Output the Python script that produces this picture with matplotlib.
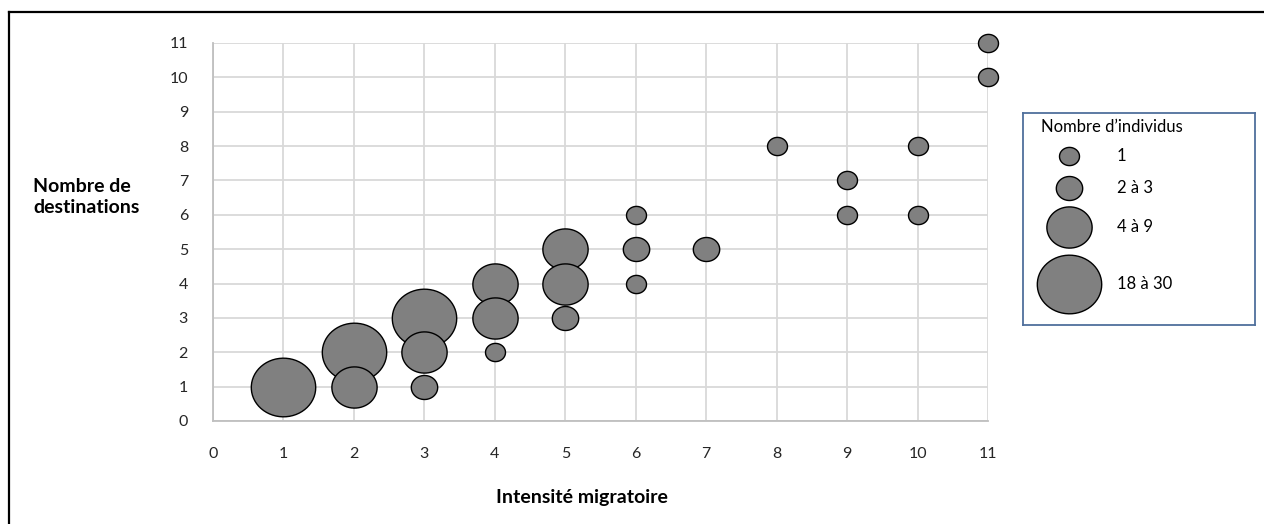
import numpy as np
import matplotlib
matplotlib.use("Agg")
import matplotlib.pyplot as plt
from matplotlib.path import Path
from matplotlib.lines import Line2D

plt.rcParams['font.family'] = ['Lato', 'DejaVu Sans']

# intensité migratoire, nombre de destinations, classe de taille (0=1, 1=2à3, 2=4à9, 3=18à30)
intensite = [1, 2, 3, 2, 3, 4, 4, 5, 5, 3, 5, 6, 7, 4, 6, 6, 8, 9, 9, 10, 10, 11, 11]
destinations = [1, 2, 3, 1, 2, 4, 3, 5, 4, 1, 3, 5, 5, 2, 4, 6, 8, 7, 6, 8, 6, 11, 10]
classe = [3, 3, 3, 2, 2, 2, 2, 2, 2, 1, 1, 1, 1, 0, 0, 0, 0, 0, 0, 0, 0, 0, 0]

legend_labels = ["1", "2 à 3", "4 à 9", "18 à 30"]
marker_width_pt = [14.4, 19.0, 32.6, 46.4]   # largeur des bulles par classe

ticks = list(range(0, 12))

# bulle légèrement ovale comme dans Excel
theta = np.linspace(0, 2 * np.pi, 60)
ellipse = Path(np.column_stack([np.cos(theta), 0.91 * np.sin(theta)]), closed=True)

fig = plt.figure(figsize=(12.64, 5.24), dpi=100)
ax = fig.add_axes([213 / 1264, 103 / 524, 775 / 1264, 378 / 524])

order = sorted(range(len(intensite)), key=lambda i: (-classe[i], -destinations[i]))
for i in order:
    ax.scatter(intensite[i], destinations[i], s=marker_width_pt[classe[i]] ** 2,
               marker=ellipse, facecolor='#808080', edgecolor='black',
               linewidth=1.0, zorder=3, clip_on=False)

ax.set_xlim(0, 11)
ax.set_ylim(0, 11)
ax.set_xticks(ticks)
ax.set_yticks(ticks)
ax.grid(True, color='#D9D9D9', linewidth=1.3)
ax.set_axisbelow(True)
for side in ['top', 'right']:
    ax.spines[side].set_visible(False)
for side in ['left', 'bottom']:
    ax.spines[side].set_color('#BFBFBF')
    ax.spines[side].set_linewidth(1.3)
ax.tick_params(length=0, labelsize=11.5, colors='#262626')
ax.tick_params(axis='x', pad=19)
ax.tick_params(axis='y', pad=18)

fig.text(582 / 1264, 1 - 498 / 524, "Intensité migratoire", ha='center', va='center',
         fontsize=14, fontweight='bold')
fig.text(33 / 1264, 1 - 197 / 524, "Nombre de\ndestinations", ha='left', va='center',
         fontsize=14, fontweight='bold', linespacing=1.3)

# cadre extérieur (haut et gauche visibles)
fig.add_artist(Line2D([9 / 1264, 1], [1 - 12 / 524, 1 - 12 / 524], color='black',
                      linewidth=1.6, transform=fig.transFigure))
fig.add_artist(Line2D([9 / 1264, 9 / 1264], [0, 1 - 12 / 524], color='black',
                      linewidth=1.6, transform=fig.transFigure))

# légende dessinée à la main
lx0, lx1, ly0, ly1 = 1023, 1255, 113, 325
lax = fig.add_axes([lx0 / 1264, 1 - ly1 / 524, (lx1 - lx0) / 1264, (ly1 - ly0) / 524])
lax.set_xlim(lx0, lx1)
lax.set_ylim(ly1, ly0)
lax.set_xticks([])
lax.set_yticks([])
for s in lax.spines.values():
    s.set_color('#4F6F9C')
    s.set_linewidth(1.3)
lax.text(1041, 127, "Nombre d\u2019individus", ha='left', va='center', fontsize=12)
row_y = [156, 188, 227, 284]
for k in range(4):
    lax.scatter(1068.5, row_y[k], s=marker_width_pt[k] ** 2, marker=ellipse,
                facecolor='#808080', edgecolor='black', linewidth=1.0, clip_on=False)
    lax.text(1117, row_y[k], legend_labels[k], ha='left', va='center', fontsize=12)

fig.savefig("out.png", dpi=100)
